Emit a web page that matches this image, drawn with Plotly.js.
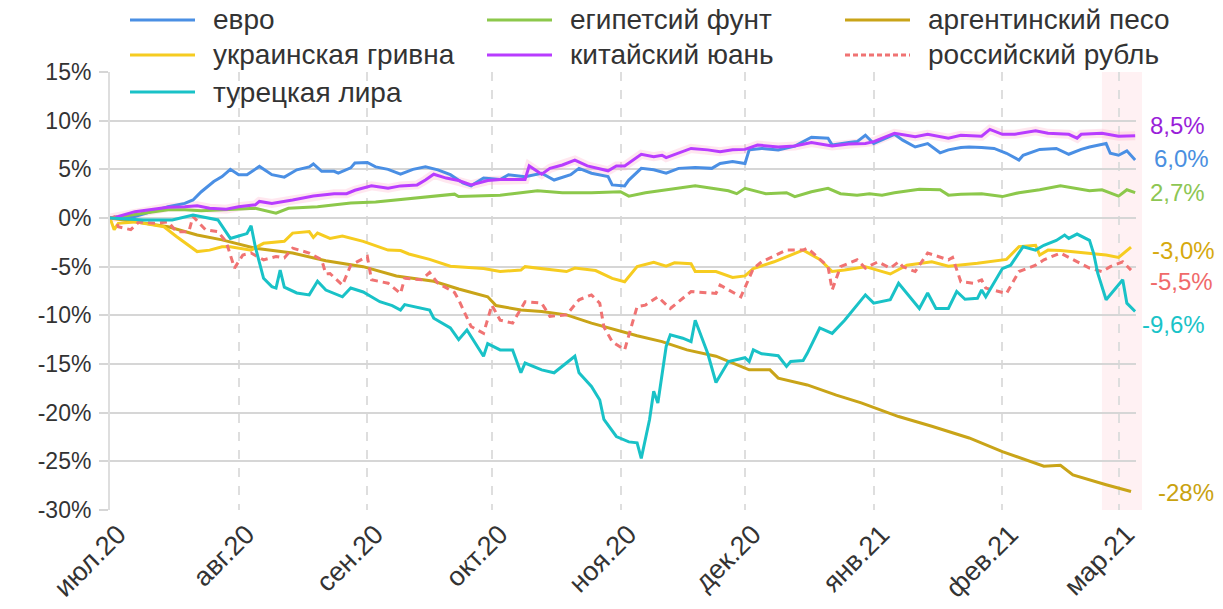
<!DOCTYPE html>
<html><head><meta charset="utf-8">
<script src="https://cdn.plot.ly/plotly-3.0.1.min.js"></script>
<style>html,body{margin:0;padding:0;background:#fff}#chart{width:1223px;height:609px}</style>
</head><body><div id="chart"></div>
<script>
// ---- data (days counted from 2020-07-01, values in % change) ----
const startDate = '2020-07-01';
const seriesNames = ['евро','египетсий фунт','аргентинский песо','украинская гривна','китайский юань','российский рубль','турецкая лира'];

const euroDays = [0,6,10,14,18,20,22,25,27,29,31,33,36,39,42,45,48,49,51,54,55,58,59,62,64,67,70,73,76,79,82,85,87,90,94,96,100,104,107,111,113,116,120,121,124,125,128,131,134,137,141,145,147,150,153,154,157,161,165,169,173,174,178,180,182,184,189,191,194,197,200,202,205,207,210,213,216,219,220,224,228,231,234,236,240,241,243,245,247];
const euroValues = [0,0.15,0.65,1.15,1.5,1.85,2.7,3.75,4.25,5.0,4.45,4.45,5.3,4.45,4.2,4.95,5.25,5.55,4.8,4.8,4.6,5.15,5.65,5.7,5.25,5.0,4.5,5.0,5.25,4.95,4.45,3.6,3.3,4.1,3.95,4.45,4.25,4.6,3.9,4.45,5.1,4.6,4.25,3.4,3.3,3.9,5.1,4.95,4.6,5.1,5.2,5.1,5.6,5.8,5.6,7.0,7.15,7.0,7.4,8.3,8.2,7.5,7.75,7.85,8.5,7.65,8.6,8.0,7.3,7.65,6.7,7.0,7.25,7.3,7.25,7.15,6.65,5.95,6.45,7.05,7.15,6.55,7.05,7.3,7.65,6.65,6.45,6.9,5.95];

const poundDays = [0,6,14,18,22,30,35,40,43,50,58,64,72,78,83,84,90,94,97,103,109,116,123,125,129,134,138,141,145,149,151,153,158,163,165,169,173,176,180,183,186,189,195,200,202,205,210,215,219,224,229,233,236,239,243,245,247];
const poundValues = [0,0.35,0.85,0.85,0.75,0.9,1.0,0.5,1.0,1.15,1.55,1.65,2.0,2.2,2.45,2.2,2.25,2.35,2.5,2.8,2.6,2.6,2.7,2.25,2.6,2.9,3.15,3.3,3.05,2.8,2.5,3.05,2.5,2.6,2.2,2.7,3.05,2.5,2.35,2.5,2.35,2.6,2.95,2.9,2.35,2.45,2.5,2.2,2.6,2.9,3.3,3.05,2.8,2.9,2.25,2.9,2.6];

const pesoDays = [0,8,14,21,27,35,44,52,61,69,78,84,91,93,99,104,110,116,122,127,133,139,146,154,159,161,168,175,181,190,198,207,215,225,229,232,240,246];
const pesoValues = [0,-0.5,-0.9,-1.75,-2.25,-3.1,-3.6,-4.4,-5.0,-5.95,-6.5,-7.3,-8.1,-9.0,-9.45,-9.6,-9.95,-10.8,-11.5,-12.1,-12.7,-13.55,-14.2,-15.6,-15.6,-16.45,-17.15,-18.2,-19.0,-20.4,-21.4,-22.6,-24.0,-25.5,-25.4,-26.4,-27.4,-28.1];

const hryvniaDays = [0,1,2,6,13,16,21,24,27,29,34,37,42,44,48,49,50,53,56,61,67,70,72,77,82,90,94,99,100,107,110,112,117,121,124,127,131,134,136,140,141,146,150,153,155,160,163,167,171,174,177,182,188,192,198,202,209,216,219,223,224,226,229,236,240,243,246];
const hryvniaValues = [0,-1.2,-0.55,-0.4,-0.9,-1.9,-3.45,-3.3,-2.95,-2.95,-3.3,-2.6,-2.4,-1.55,-1.4,-2.0,-1.55,-2.1,-1.85,-2.4,-3.3,-3.35,-3.7,-4.25,-4.95,-5.2,-5.5,-5.35,-5.0,-5.4,-5.5,-5.15,-5.4,-6.2,-6.55,-5.0,-4.55,-4.95,-4.6,-4.7,-5.5,-5.5,-6.1,-5.95,-5.2,-4.5,-3.95,-3.3,-4.25,-5.5,-5.35,-5.0,-5.75,-4.85,-4.5,-4.95,-4.65,-4.25,-2.95,-2.8,-3.8,-3.3,-3.35,-3.65,-3.8,-4.05,-3.0];

const yuanDays = [0,2,6,10,14,18,21,24,28,31,35,36,39,44,49,54,57,59,63,67,70,74,76,78,81,84,87,91,94,100,101,104,106,109,112,115,120,122,124,128,131,133,134,140,144,147,150,153,156,161,165,169,174,178,182,184,189,194,197,202,205,210,212,215,218,223,226,231,233,234,239,243,247];
const yuanValues = [0,0.15,0.65,0.9,1.1,1.15,1.25,1.0,0.9,1.15,1.35,1.7,1.5,1.85,2.25,2.5,2.5,2.85,3.3,3.05,3.3,3.4,3.9,4.5,4.1,3.85,3.4,3.85,3.95,3.95,5.35,4.5,5.1,5.45,5.95,5.35,4.85,5.35,5.35,6.55,6.3,6.45,6.2,7.15,7.0,6.8,7.0,7.05,7.5,7.3,7.4,7.75,7.4,7.6,7.65,7.85,8.7,8.35,8.6,8.2,8.5,8.4,9.1,8.6,8.6,8.95,8.7,8.6,8.2,8.6,8.7,8.4,8.45];

const rubleDays = [0,1,2,5,7,11,14,16,19,20,23,26,28,30,32,34,37,40,42,44,48,51,52,53,56,58,62,63,67,70,71,75,77,79,83,84,87,90,92,94,97,100,104,106,110,113,116,118,119,121,124,127,129,132,135,140,146,147,152,155,157,163,167,168,169,173,174,176,180,182,185,188,190,191,194,197,202,203,205,208,210,211,216,219,223,225,229,233,236,239,241,244,246];
const rubleValues = [0,0.1,-0.9,-1.2,-0.4,-0.55,-0.4,-1.4,-1.4,0.15,-1.2,-1.4,-2.45,-5.15,-3.8,-3.6,-4.3,-3.95,-4.1,-3.1,-3.6,-4.3,-5.75,-5.7,-6.9,-4.85,-3.95,-6.35,-6.7,-7.75,-6.2,-6.35,-5.6,-6.7,-7.65,-8.4,-11.15,-11.85,-8.95,-10.5,-10.8,-8.6,-8.75,-10.1,-9.95,-8.4,-7.9,-8.75,-11.2,-12.7,-13.55,-9.1,-8.95,-8.1,-9.3,-7.55,-7.75,-6.9,-8.1,-5.2,-4.5,-3.3,-3.3,-3.1,-3.45,-5.0,-7.4,-5.0,-4.3,-5.15,-4.5,-5.15,-4.5,-5.0,-5.5,-3.6,-4.3,-4.05,-6.55,-6.7,-6.35,-7.2,-7.75,-5.5,-4.85,-4.3,-3.6,-4.5,-5.15,-5.5,-5.0,-4.5,-5.35];

const liraDays = [0,8,15,20,26,29,31,33,34,35,37,39,40,41,42,45,48,50,52,56,58,61,65,68,70,71,77,78,82,84,86,88,90,91,94,97,99,100,104,107,110,112,113,116,118,119,122,125,127,128,130,131,132,134,135,138,140,141,144,146,149,153,154,155,157,161,163,164,167,168,171,174,177,182,184,188,190,195,197,199,202,204,206,209,210,211,215,217,220,223,225,228,230,231,233,236,237,238,240,244,245,247];
const liraValues = [0,-0.2,-0.2,0.3,-0.2,-2.1,-1.85,-1.6,-0.8,-2.95,-6.2,-7.05,-7.2,-5.35,-7.1,-7.7,-7.9,-6.5,-7.4,-8.1,-7.2,-7.6,-8.6,-9.0,-9.45,-8.9,-9.45,-10.3,-11.3,-12.5,-11.5,-12.9,-14.2,-12.9,-13.55,-13.55,-15.9,-14.9,-15.6,-15.9,-14.9,-14.2,-15.9,-17.3,-18.7,-20.7,-22.45,-23.0,-23.1,-24.7,-20.7,-17.8,-19.0,-13.2,-12.0,-12.35,-12.7,-10.5,-13.9,-16.9,-14.75,-14.35,-14.75,-13.55,-13.95,-14.15,-15.25,-14.75,-14.65,-13.9,-11.3,-11.85,-10.5,-7.9,-8.75,-8.4,-6.7,-9.3,-7.7,-9.3,-9.3,-7.55,-8.35,-8.25,-7.4,-8.1,-5.2,-4.85,-2.95,-3.3,-2.8,-2.3,-1.75,-2.1,-1.65,-2.3,-3.65,-5.7,-8.4,-6.35,-8.75,-9.6];

const endLabels = ['6,0%','2,7%','-28%','-3,0%','8,5%','-5,5%','-9,6%'];

const monthTicks = ['2020-07-01','2020-08-01','2020-09-01','2020-10-01','2020-11-01','2020-12-01','2021-01-01','2021-02-01','2021-03-01'];
const monthLabels = ['июл.20','авг.20','сен.20','окт.20','ноя.20','дек.20','янв.21','фев.21','мар.21'];
const yTickValues = [15,10,5,0,-5,-10,-15,-20,-25,-30];
const yTickLabels = ['15%','10%','5%','0%','-5%','-10%','-15%','-20%','-25%','-30%'];
const shadeStart = '2021-02-25';

// ---- styles / positions ----
const lineColors = ['#4a8fe4','#8cc84b','#c9a418','#f6cc20','#b83cff','#f07373','#19c2c7'];
const lineDash = ['solid','solid','solid','solid','solid','7px,5px','solid'];
const labelColors = ['#4a8fe0','#8dc653','#c9a210','#d6a90e','#9a1fd9','#f06a6a','#19c3c8'];
const labelY = [6.16, 2.67, -28.2, -3.29, 9.55, -6.57, -10.99];
const labelShift = [16, 12, 20, 14, 12, 12, 4];
const FONT = 'Liberation Sans, Arial, Helvetica, sans-serif';

const DAY = 86400000;
const t0 = Date.parse(startDate + 'T00:00:00Z');
const tEnd = t0 + 247.2 * DAY;
const toDate = d => new Date(t0 + d * DAY).toISOString().slice(0, 10);

const seriesDays = [euroDays, poundDays, pesoDays, hryvniaDays, yuanDays, rubleDays, liraDays];
const seriesValues = [euroValues, poundValues, pesoValues, hryvniaValues, yuanValues, rubleValues, liraValues];

const traces = [];
// soft glow under the yuan line
traces.push({x: yuanDays.map(toDate), y: yuanValues, type: 'scatter', mode: 'lines',
  line: {color: 'rgba(255,160,190,0.25)', width: 9}, hoverinfo: 'skip', showlegend: false});
seriesNames.forEach((n, i) => {
  traces.push({
    x: seriesDays[i].map(toDate), y: seriesValues[i], name: n, type: 'scatter', mode: 'lines',
    line: {color: lineColors[i], width: 3, dash: lineDash[i]}, showlegend: false
  });
});

// plot geometry (pixels) for custom legend placement
const PL = 110, PR = 1136, PT = 72, PB = 510;
const px = p => (p - PL) / (PR - PL);
const py = p => (PB - p) / (PB - PT);
const legCols = [130, 487, 845];
const legRows = [20, 55, 92];

const shapes = [{
  type: 'rect', xref: 'paper', yref: 'paper',
  x0: (Date.parse(shadeStart + 'T00:00:00Z') - t0) / (tEnd - t0), x1: px(1142), y0: 0, y1: 1,
  fillcolor: 'rgba(255,215,222,0.35)', line: {width: 0}, layer: 'below'
}];
const annotations = [];
seriesNames.forEach((n, i) => {
  const c = legCols[i % 3], r = legRows[Math.floor(i / 3)];
  shapes.push({type: 'line', xref: 'paper', yref: 'paper', x0: px(c), x1: px(c + 65), y0: py(r), y1: py(r),
    line: {color: lineColors[i], width: 3, dash: i === 5 ? '5px,3px' : 'solid'}});
  annotations.push({xref: 'paper', yref: 'paper', x: px(c + 81), y: py(r), xanchor: 'left', yanchor: 'middle',
    text: n, showarrow: false, font: {family: FONT, size: 28, color: '#333'}});
  annotations.push({xref: 'paper', yref: 'y', x: 1, xshift: labelShift[i], y: labelY[i], xanchor: 'left', yanchor: 'middle',
    text: endLabels[i], showarrow: false, font: {family: FONT, size: 24, color: labelColors[i]}});
});

const layout = {
  width: 1223, height: 609,
  margin: {l: PL, r: 1223 - PR, t: PT, b: 609 - PB},
  paper_bgcolor: '#fff', plot_bgcolor: '#fff',
  font: {family: FONT, color: '#333'},
  showlegend: false,
  xaxis: {
    type: 'date', range: [t0, tEnd],
    tickmode: 'array', tickvals: monthTicks, ticktext: monthLabels, tickangle: -45,
    tickfont: {family: FONT, size: 27, color: '#333'},
    ticklabelshift: 8, ticklabelstandoff: 2,
    showgrid: true, gridcolor: '#dedede', gridwidth: 2, griddash: 'dash',
    zeroline: false, showline: false, ticks: ''
  },
  yaxis: {
    range: [-30, 15], tickmode: 'array', tickvals: yTickValues, ticktext: yTickLabels,
    tickfont: {family: FONT, size: 23, color: '#333'}, ticklabelstandoff: 3,
    showgrid: true, gridcolor: '#d6d6d6', gridwidth: 2, zeroline: false,
    ticks: 'outside', ticklen: 9, tickwidth: 2, tickcolor: '#d6d6d6',
    showline: true, linecolor: '#dedede', linewidth: 2
  },
  shapes: shapes,
  annotations: annotations
};

Plotly.newPlot('chart', traces, layout, {displayModeBar: false, staticPlot: true});
</script>
</body></html>
